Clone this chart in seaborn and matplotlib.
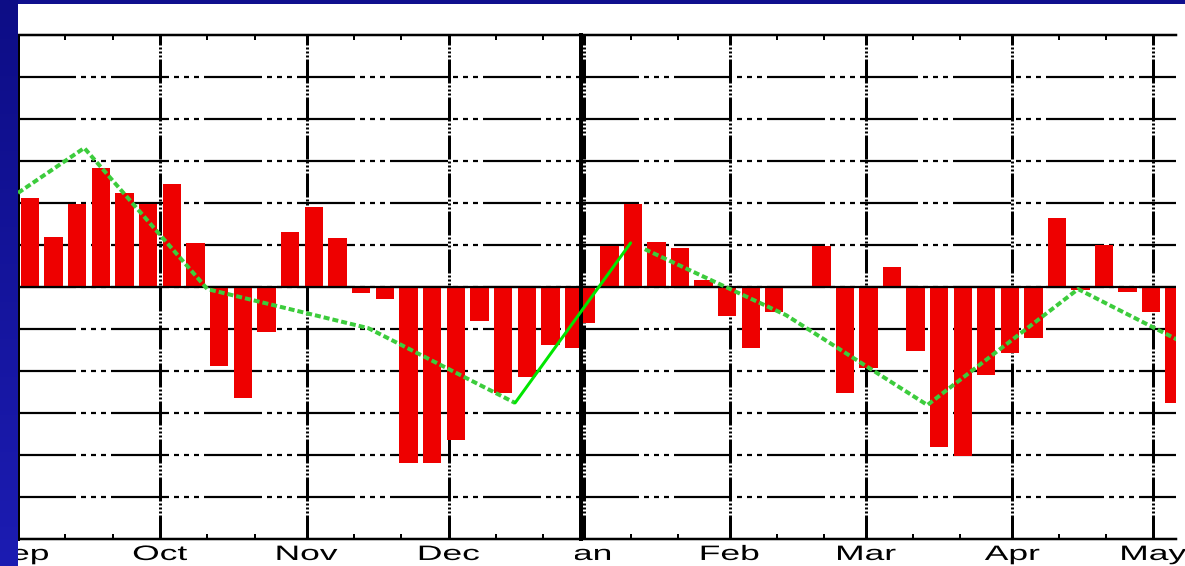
import matplotlib
matplotlib.use("Agg")
import numpy as np
import pandas as pd
import matplotlib.pyplot as plt
import matplotlib.dates as mdates
from matplotlib.patches import ConnectionPatch, Rectangle
from matplotlib.patheffects import AbstractPathEffect
from matplotlib.transforms import Affine2D
from matplotlib.colors import LinearSegmentedColormap
import seaborn as sns

# ---- data -------------------------------------------------------------
# consecutive 5-day (pentad) anomalies starting 1 Sep 2003
pentad_first_day = "2003-09-01"
pentad_anomaly = [
    2.12, 1.19, 1.98, 2.83, 2.24, 1.98,
    2.45, 1.05, -1.88, -2.64, -1.07, 1.31,
    1.90, 1.17, -0.14, -0.29, -4.19, -4.19,
    -3.64, -0.81, -2.52, -2.14, -1.38, -1.45,
    -0.86, 0.98, 1.98, 1.07, 0.93, 0.17,
    -0.69, -1.45, -0.60, 0.00, 0.98, -2.52,
    -1.93, 0.48, -1.52, -3.81, -4.02, -2.10,
    -1.57, -1.21, 1.64, -0.08, 1.00, -0.12,
    -0.60, -2.76,
]

# smoothed (roughly monthly) curve, one piece per panel
green_left_dates = ["2003-09-01", "2003-09-15", "2003-10-11", "2003-11-14", "2003-12-15"]
green_left_values = [2.24, 3.31, -0.05, -0.98, -2.76]
green_right_dates = ["2004-01-14", "2004-02-13", "2004-03-14", "2004-04-15", "2004-05-06"]
green_right_values = [0.90, -0.67, -2.81, -0.05, -1.25]

# solid link from the December low into January
link_end_date = "2004-01-11"
link_end_value = 1.05

months_left = ["2003-09-01", "2003-10-01", "2003-11-01", "2003-12-01"]
labels_left = ["Sep", "Oct", "Nov", "Dec"]
months_right = ["2004-01-01", "2004-02-01", "2004-03-01", "2004-04-01", "2004-05-01"]
labels_right = ["Jan", "Feb", "Mar", "Apr", "May"]

view_left = ("2003-09-01 08:00", "2003-12-28 12:00")
view_right = ("2003-12-31 11:00", "2004-05-05 19:00")

# ---- style --------------------------------------------------------------
sns.set_style("white")
plt.rcParams["font.family"] = ["Liberation Sans", "DejaVu Sans"]
plt.rcParams["lines.scale_dashes"] = False

W, H = 1185, 566
PX = 72 / 100  # points per pixel at 100 dpi

BAR_RED = "#ee0000"
CURVE_GREEN = "#3ccc3c"
LINK_GREEN = "#00e600"

h_style = (0, (58 * PX, 5 * PX, 5 * PX, 5 * PX, 5 * PX, 5 * PX, 5 * PX, 5 * PX))
v_style = (0, (24 * PX, 2 * PX, 2 * PX, 2 * PX, 2 * PX, 2 * PX, 2 * PX, 2 * PX))


class HStretch(AbstractPathEffect):
    """Draw text glyphs widened horizontally about their centre."""

    def __init__(self, factor):
        super().__init__()
        self.factor = factor

    def draw_path(self, renderer, gc, tpath, affine, rgbFace=None):
        ext = tpath.get_extents(affine)
        cx = 0.5 * (ext.x0 + ext.x1)
        wide = affine + Affine2D().translate(-cx, 0).scale(self.factor, 1).translate(cx, 0)
        renderer.draw_path(gc, tpath, wide, rgbFace)


def box(x0, x1, y0, y1):
    return [x0 / W, 1 - y1 / H, (x1 - x0) / W, (y1 - y0) / H]


def dnum(values):
    return mdates.date2num(pd.to_datetime(values))


centers = pd.date_range(pentad_first_day, periods=len(pentad_anomaly), freq="5D") + pd.Timedelta(hours=60)
bars = pd.DataFrame({"day": mdates.date2num(centers), "anomaly": pentad_anomaly})

fig = plt.figure(figsize=(W / 100, H / 100), dpi=100, facecolor="white")


def panel(rect, view, month_dates, month_labels, green_dates, green_values, left_lw):
    ax = fig.add_axes(rect)
    ax.set_facecolor("white")
    sns.barplot(data=bars, x="day", y="anomaly", native_scale=True, width=0.78,
                color=BAR_RED, saturation=1, errorbar=None, linewidth=0,
                ax=ax, zorder=2)
    ax.axhline(0, color="black", lw=2.2 * PX, zorder=3)
    sns.lineplot(x=dnum(green_dates), y=green_values, ax=ax, color=CURVE_GREEN,
                 lw=4 * PX, linestyle=(0, (6 * PX, 3 * PX)), zorder=5)

    ax.set_xlim(*dnum(list(view)))
    ax.set_ylim(-6, 6)

    ax.set_xticks(dnum(month_dates), month_labels)
    ax.xaxis.set_minor_locator(mdates.DayLocator(bymonthday=[11, 21]))
    ax.tick_params(axis="x", which="major", length=0, pad=4.3, labelsize=15,
                   labelcolor="black")
    ax.tick_params(axis="x", which="minor", direction="in", top=True, bottom=True,
                   length=5 * PX, width=2 * PX, color="black")
    ax.set_yticks(range(-5, 6))
    ax.tick_params(axis="y", length=0, labelleft=False)

    ax.grid(True, axis="y", color="black", lw=2.2 * PX, linestyle=h_style)
    ax.grid(True, axis="x", which="major", color="black", lw=3 * PX, linestyle=v_style)
    ax.set_axisbelow(True)
    ax.set_xlabel("")
    ax.set_ylabel("")

    for side in ("top", "bottom"):
        ax.spines[side].set_visible(True)
        ax.spines[side].set_color("black")
        ax.spines[side].set_linewidth(2.5 * PX)
    ax.spines["right"].set_visible(False)
    ax.spines["left"].set_visible(True)
    ax.spines["left"].set_color("black")
    ax.spines["left"].set_linewidth(left_lw * PX)
    ax.spines["left"].set_linestyle(v_style)

    for tick in ax.xaxis.get_major_ticks():
        tick.label1.set_path_effects([HStretch(1.7)])
    return ax


ax_left = panel(box(18, 579, 35, 539), view_left, months_left, labels_left,
                green_left_dates, green_left_values, 3)
ax_right = panel(box(581, 1176, 35, 539), view_right, months_right, labels_right,
                 green_right_dates, green_right_values, 4)

link = ConnectionPatch(
    xyA=(dnum([green_left_dates[-1]])[0], green_left_values[-1]), coordsA="data", axesA=ax_left,
    xyB=(dnum([link_end_date])[0], link_end_value), coordsB="data", axesB=ax_right,
    color=LINK_GREEN, lw=3 * PX, zorder=6)
fig.add_artist(link)

# the left panel's white margin overlaps the start of the right panel's axis labels
fig.add_artist(Rectangle((540 / W, 0), (575 - 540) / W, (H - 542) / H,
                         transform=fig.transFigure, facecolor="white",
                         edgecolor="none", zorder=8))

# dark blue slide frame along the left and top edges
frame_cmap = LinearSegmentedColormap.from_list("frame", ["#0d0d86", "#1c1cb2"])
ax_frame = fig.add_axes([0, 0, 18 / W, 1], zorder=10)
ax_frame.imshow(np.linspace(0, 1, 256)[:, None], aspect="auto", cmap=frame_cmap)
ax_frame.set_axis_off()
fig.add_artist(Rectangle((0, 1 - 4 / H), 1, 4 / H, transform=fig.transFigure,
                         facecolor="#10108e", edgecolor="none", zorder=10))

fig.savefig("out.png", dpi=100, facecolor="white")
